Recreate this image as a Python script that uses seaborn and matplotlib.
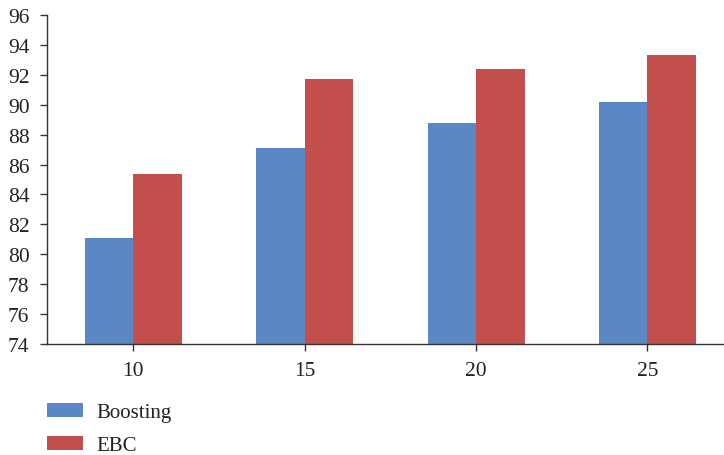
import matplotlib
matplotlib.use("Agg")
import matplotlib.pyplot as plt
import seaborn as sns
import pandas as pd
from matplotlib.patches import Patch

# Accuracy per ensemble size
sizes = ["10", "15", "20", "25"]
boosting = [81.1, 87.1, 88.8, 90.2]
ebc = [85.4, 91.7, 92.4, 93.3]
series_names = ["Boosting", "EBC"]
y_ticks = list(range(74, 97, 2))

colors = {"Boosting": "#5B88C4", "EBC": "#C24F4C"}

df = pd.DataFrame({
    "size": sizes * 2,
    "value": boosting + ebc,
    "method": [series_names[0]] * len(sizes) + [series_names[1]] * len(sizes),
})

sns.set_theme(style="white")
plt.rcParams["font.family"] = ["Liberation Serif", "DejaVu Serif"]
plt.rcParams["xtick.bottom"] = True
plt.rcParams["ytick.left"] = True

fig = plt.figure(figsize=(7.24, 4.56), dpi=100)
ax = fig.add_axes([0.0656, 0.2434, 0.947, 0.7215])

sns.barplot(data=df, x="size", y="value", hue="method", order=sizes,
            hue_order=series_names, palette=colors, width=0.566,
            saturation=1, linewidth=0, ax=ax, legend=False)

ax.set_ylim(74, 96)
ax.set_xlim(-0.5, 3.5)
ax.set_yticks(y_ticks)
ax.set_xlabel("")
ax.set_ylabel("")

for side in ["top", "right"]:
    ax.spines[side].set_visible(False)
for side in ["left", "bottom"]:
    ax.spines[side].set_color("#333333")
    ax.spines[side].set_linewidth(1.0)

ax.tick_params(axis="y", which="major", direction="out", length=5, width=1,
               color="#333333", pad=8, labelsize=15.5, labelcolor="#222222", left=True)
ax.tick_params(axis="x", which="major", direction="out", length=5, width=1,
               color="#333333", pad=7, labelsize=15.5, labelcolor="#222222", bottom=True)

handles = [Patch(facecolor=colors[n], edgecolor="none", label=n) for n in series_names]
fig.legend(handles=handles, loc="upper left", bbox_to_anchor=(0.0644, 0.115),
           frameon=False, fontsize=15, handlelength=1.75, handleheight=0.7,
           handletextpad=0.65, labelspacing=0.65, borderaxespad=0, borderpad=0,
           labelcolor="#222222")

fig.savefig("out.png", dpi=100)
